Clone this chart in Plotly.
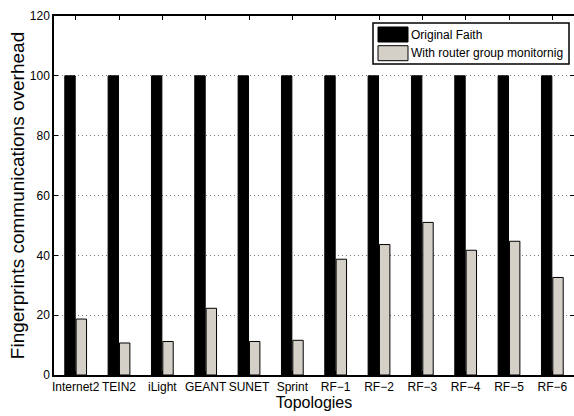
import plotly.graph_objects as go

# Topologies and communication overhead (%) of fingerprint exchange
topologies = ["Internet2", "TEIN2", "iLight", "GEANT", "SUNET", "Sprint",
              "RF\u22121", "RF\u22122", "RF\u22123", "RF\u22124", "RF\u22125", "RF\u22126"]
original_faith = [100, 100, 100, 100, 100, 100, 100, 100, 100, 100, 100, 100]
router_group = [18.7, 10.7, 11.2, 22.3, 11.2, 11.6, 38.7, 43.6, 51.0, 41.7, 44.7, 32.6]

y_ticks = [0, 20, 40, 60, 80, 100, 120]

series_names = ["Original Faith", "With router group monitornig"]
series_colors = ["#000000", "#d4d0c8"]

REGULAR = "Liberation Sans, Arial, sans-serif"

x_pos = list(range(1, len(topologies) + 1))

fig = go.Figure()
fig.add_trace(go.Bar(
    x=x_pos, y=original_faith, name=series_names[0],
    marker=dict(color=series_colors[0], line=dict(color="#000000", width=1)),
))
fig.add_trace(go.Bar(
    x=x_pos, y=router_group, name=series_names[1],
    marker=dict(color=series_colors[1], line=dict(color="#000000", width=1)),
))

fig.update_layout(
    width=574, height=416,
    margin=dict(l=54, r=0, t=16, b=41),
    paper_bgcolor="white", plot_bgcolor="white",
    barmode="group", bargap=0.476, bargroupgap=0.084,
    showlegend=False,
    font=dict(family=REGULAR, color="#000000"),
)

fig.update_xaxes(
    range=[0.5, 12.5], automargin=False,
    tickmode="array", tickvals=x_pos, ticktext=topologies,
    tickangle=0,
    tickfont=dict(family=REGULAR, size=12),
    ticks="inside", ticklen=4, tickcolor="#000000",
    showline=True, linecolor="#000000", linewidth=1.5, mirror="ticks",
    showgrid=False, zeroline=False,
    title=dict(text="Topologies", font=dict(family=REGULAR, size=16), standoff=0),
)
fig.update_yaxes(
    range=[0, 120], automargin=False,
    tickmode="array", tickvals=y_ticks,
    tickfont=dict(family=REGULAR, size=12),
    ticks="inside", ticklen=4, tickcolor="#000000",
    showline=True, linecolor="#000000", linewidth=1.5, mirror="ticks",
    showgrid=True, gridcolor="#777777", gridwidth=1, griddash="1px,3px",
    zeroline=False,
    title=dict(text="Fingerprints communications overhead",
               font=dict(family=REGULAR, size=19), standoff=0),
)

# Legend box drawn in paper coordinates
def px_x(px):
    return (px - 54) / 520.0

def px_y(py):
    return (375 - py) / 359.0

fig.add_shape(type="rect", xref="paper", yref="paper",
              x0=px_x(373), x1=px_x(569), y0=px_y(64), y1=px_y(23),
              line=dict(color="#000000", width=1.5), fillcolor="white", layer="above")
swatch_rows = [(27, 42), (45.7, 60.7)]
for (top, bot), name, color in zip(swatch_rows, series_names, series_colors):
    fig.add_shape(type="rect", xref="paper", yref="paper",
                  x0=px_x(378), x1=px_x(408), y0=px_y(bot), y1=px_y(top),
                  line=dict(color="#000000", width=1), fillcolor=color, layer="above")
    fig.add_annotation(xref="paper", yref="paper",
                       x=px_x(409), y=px_y((top + bot) / 2),
                       text=name, showarrow=False,
                       xanchor="left", yanchor="middle",
                       font=dict(family=REGULAR, size=12, color="#000000"))

fig.write_html("out.html")
